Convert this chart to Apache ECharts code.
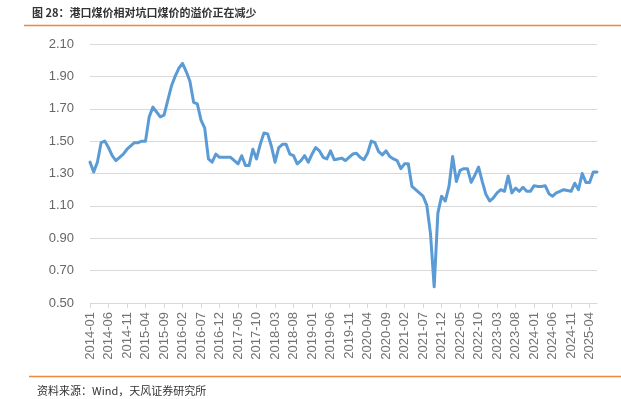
<!DOCTYPE html>
<html>
<head>
<meta charset="utf-8">
<script src="https://cdn.jsdelivr.net/npm/echarts@6/dist/echarts.min.js"></script>
<style>
  html, body { margin: 0; padding: 0; background: #fff; }
  #chart { width: 621px; height: 399px; }
</style>
</head>
<body>
<div id="chart"></div>
<script>
// months 2014-01 .. 2025-06
var startYear = 2014;
var monthCount = 138;
var categories = [];
for (var i = 0; i < monthCount; i++) {
  var y = startYear + Math.floor(i / 12);
  var m = (i % 12) + 1;
  categories.push(y + '-' + (m < 10 ? '0' + m : m));
}

// port / pit-head coal price premium
var premium = [
  1.37, 1.31, 1.37, 1.49, 1.50, 1.46, 1.41, 1.38, 1.40, 1.42, 1.45, 1.47,
  1.49, 1.49, 1.50, 1.50, 1.65, 1.71, 1.68, 1.65, 1.66, 1.75, 1.84, 1.90,
  1.95, 1.98, 1.93, 1.87, 1.74, 1.73, 1.63, 1.58, 1.39, 1.37, 1.42, 1.40,
  1.40, 1.40, 1.40, 1.38, 1.36, 1.41, 1.35, 1.35, 1.45, 1.39, 1.48, 1.55,
  1.545, 1.47, 1.37, 1.46, 1.48, 1.48, 1.42, 1.41, 1.36, 1.38, 1.41, 1.37,
  1.42, 1.46, 1.44, 1.40, 1.39, 1.44, 1.385, 1.39, 1.395, 1.38, 1.40, 1.42,
  1.425, 1.40, 1.385, 1.425, 1.50, 1.49, 1.435, 1.415, 1.44, 1.405, 1.39, 1.38,
  1.33, 1.36, 1.36, 1.22, 1.20, 1.18, 1.16, 1.105, 0.93, 0.60, 1.055, 1.16,
  1.13, 1.22, 1.405, 1.25, 1.32, 1.33, 1.33, 1.245, 1.29, 1.34, 1.25, 1.17,
  1.13, 1.15, 1.18, 1.20, 1.19, 1.285, 1.18, 1.21, 1.19, 1.215, 1.19, 1.19,
  1.225, 1.22, 1.22, 1.225, 1.175, 1.16, 1.18, 1.19, 1.20, 1.195, 1.19, 1.24,
  1.20, 1.30, 1.245, 1.245, 1.31, 1.31
];

var yTicks = { min: 0.5, max: 2.1, step: 0.2 };

var titleText = '图 28：港口煤价相对坑口煤价的溢价正在减少';
var sourceText = '资料来源：Wind，天风证券研究所';

var font = '"Liberation Sans", "Noto Sans CJK SC", sans-serif';
var cjkFont = '"Noto Sans CJK SC", sans-serif';

var chart = echarts.init(document.getElementById('chart'), null, { renderer: 'canvas' });

var option = {
  animation: false,
  backgroundColor: '#fff',
  grid: { left: 90, right: 24, top: 44, bottom: 96 },
  xAxis: {
    type: 'category',
    data: categories,
    boundaryGap: false,
    axisLine: { lineStyle: { color: '#d9d9d9', width: 1 } },
    axisTick: { show: true, interval: 4, length: 5, lineStyle: { color: '#d9d9d9' } },
    axisLabel: {
      interval: 4,
      rotate: 90,
      margin: 9,
      color: '#737373',
      fontSize: 13,
      fontFamily: font
    },
    splitLine: { show: false }
  },
  yAxis: {
    type: 'value',
    min: yTicks.min,
    max: yTicks.max,
    interval: yTicks.step,
    axisLine: { show: false },
    axisTick: { show: false },
    axisLabel: {
      margin: 16,
      color: '#666',
      fontSize: 13,
      fontFamily: font,
      formatter: function (v) { return v.toFixed(2); }
    },
    splitLine: { lineStyle: { color: '#d9d9d9', width: 1 } }
  },
  series: [
    {
      type: 'line',
      data: premium,
      showSymbol: false,
      smooth: false,
      lineStyle: { color: '#5B9BD5', width: 3, cap: 'round', join: 'round' },
      itemStyle: { color: '#5B9BD5' }
    }
  ],
  graphic: [
    {
      type: 'text',
      left: 32,
      top: 7,
      style: { text: titleText, fill: '#333', font: 'bold 11px ' + cjkFont }
    },
    {
      type: 'line',
      shape: { x1: 24, y1: 25.5, x2: 621, y2: 25.5 },
      style: { stroke: '#F0883A', lineWidth: 1.5 }
    },
    {
      type: 'line',
      shape: { x1: 29, y1: 376.5, x2: 621, y2: 376.5 },
      style: { stroke: '#F0883A', lineWidth: 1.5 }
    },
    {
      type: 'text',
      left: 37,
      top: 385,
      style: { text: sourceText, fill: '#333', font: '11px ' + cjkFont }
    }
  ]
};

option && chart.setOption(option);
</script>
</body>
</html>
